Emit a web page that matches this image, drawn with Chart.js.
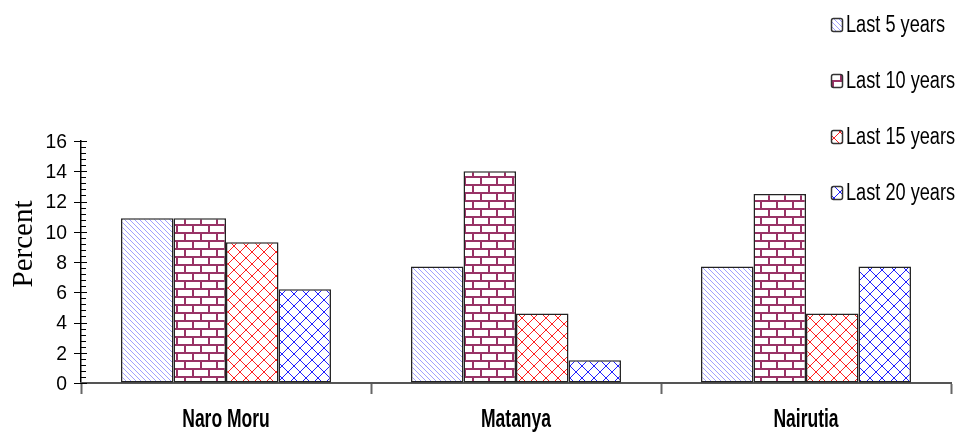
<!DOCTYPE html>
<html>
<head>
<meta charset="utf-8">
<script src="https://cdn.jsdelivr.net/npm/chart.js@4/dist/chart.umd.min.js"></script>
<style>
  html, body { margin: 0; padding: 0; background: #fff; }
  #wrap { width: 962px; height: 439px; }
</style>
</head>
<body>
<div id="wrap"><canvas id="yearsChart" width="962" height="439"></canvas></div>
<script>
// Sites and percentage values per period
const categories = ['Naro Moru', 'Matanya', 'Nairutia'];
const seriesLabels = ['Last 5 years', 'Last 10 years', 'Last 15 years', 'Last 20 years'];
const last5 = [10.9, 7.7, 7.7];
const last10 = [10.9, 14.0, 12.5];
const last15 = [9.3, 4.6, 4.6];
const last20 = [6.2, 1.5, 7.7];
const yMax = 16;
const yStep = 2;
const yTitle = 'Percent';

// build fill patterns
function makePattern(w, h, draw) {
  const c = document.createElement('canvas');
  c.width = w; c.height = h;
  const g = c.getContext('2d');
  g.fillStyle = '#ffffff';
  g.fillRect(0, 0, w, h);
  draw(g);
  return c.getContext('2d').createPattern(c, 'repeat');
}

const diagPattern = makePattern(5, 5, g => {
  g.strokeStyle = 'rgba(120, 120, 255, 0.7)';
  g.lineWidth = 1;
  g.beginPath();
  g.moveTo(-1, -1); g.lineTo(6, 6);
  g.moveTo(-1, 4); g.lineTo(1, 6);
  g.moveTo(4, -1); g.lineTo(6, 1);
  g.stroke();
});

const brickPattern = makePattern(16, 16, g => {
  g.fillStyle = '#993366';
  g.fillRect(0, 0, 16, 2);
  g.fillRect(0, 8, 16, 2);
  g.fillRect(0, 0, 2, 8);
  g.fillRect(8, 8, 2, 8);
});

function diamondPattern(color) {
  return makePattern(12, 12, g => {
    g.strokeStyle = color;
    g.lineWidth = 1;
    g.beginPath();
    g.moveTo(0, 0); g.lineTo(12, 12);
    g.moveTo(12, 0); g.lineTo(0, 12);
    g.moveTo(-6, 6); g.lineTo(6, 18);
    g.moveTo(6, -6); g.lineTo(18, 6);
    g.moveTo(6, -6); g.lineTo(-6, 6);
    g.moveTo(18, 6); g.lineTo(6, 18);
    g.stroke();
  });
}

const redPattern = diamondPattern('#ff2020');
const bluePattern = diamondPattern('#2020ff');

const fills = [diagPattern, brickPattern, redPattern, bluePattern];
const seriesValues = [last5, last10, last15, last20];

// condensed text helper
function squeezeText(ctx, text, x, y, sx, align) {
  ctx.save();
  ctx.translate(x, y);
  ctx.scale(sx, 1);
  ctx.textAlign = align;
  ctx.fillText(text, 0, 0);
  ctx.restore();
}

// axis labels, minor ticks, axis title and legend
const axisExtras = {
  id: 'axisExtras',
  afterDraw(chart) {
    const ctx = chart.ctx;
    const y = chart.scales.y;
    const x = chart.scales.x;
    const x0 = y.right;
    ctx.save();
    ctx.strokeStyle = '#000';
    ctx.lineWidth = 1;
    for (let i = 0; i <= 40; i++) {
      const py = Math.round(y.getPixelForValue(i * 0.4)) + 0.5;
      ctx.beginPath();
      if (i % 5 === 0) {
        ctx.moveTo(x0 - 7, py); ctx.lineTo(x0 + 6, py);
      } else {
        ctx.moveTo(x0, py); ctx.lineTo(x0 + 5, py);
      }
      ctx.stroke();
    }

    // value labels
    ctx.fillStyle = '#000';
    ctx.textBaseline = 'middle';
    ctx.font = '21px "Liberation Sans", Arial, sans-serif';
    y.ticks.forEach(t => {
      squeezeText(ctx, String(t.value), 67, y.getPixelForValue(t.value) + 1, 0.92, 'right');
    });

    // category labels
    ctx.font = 'bold 25px "Liberation Sans", Arial, sans-serif';
    chart.data.labels.forEach((lab, i) => {
      squeezeText(ctx, lab, x.getPixelForValue(i), 420, 0.7, 'center');
    });

    // axis title
    ctx.save();
    ctx.translate(24, 244);
    ctx.rotate(-Math.PI / 2);
    ctx.font = '29px "Liberation Serif", "Times New Roman", serif';
    ctx.textAlign = 'center';
    ctx.fillText(yTitle, 0, 0);
    ctx.restore();

    // legend
    ctx.font = '23px "Liberation Sans", Arial, sans-serif';
    chart.data.datasets.forEach((ds, i) => {
      const cy = 25 + i * 56;
      ctx.fillStyle = ds.backgroundColor;
      ctx.fillRect(832, cy - 6, 10, 12);
      ctx.strokeStyle = '#333';
      ctx.lineWidth = 1.5;
      ctx.beginPath();
      ctx.roundRect(831.5, cy - 6.5, 11, 13, 2);
      ctx.stroke();
      ctx.fillStyle = '#000';
      squeezeText(ctx, ds.label, 846, cy + 1, 0.79, 'left');
    });
    ctx.restore();
  }
};

new Chart(document.getElementById('yearsChart'), {
  type: 'bar',
  data: {
    labels: categories,
    datasets: seriesLabels.map((label, i) => ({
      label: label,
      data: seriesValues[i],
      backgroundColor: fills[i],
      borderColor: '#222',
      borderWidth: 1.5,
      borderSkipped: false,
      categoryPercentage: 0.724,
      barPercentage: 1.0,
    }))
  },
  options: {
    responsive: false,
    animation: false,
    layout: {
      padding: { top: 141, right: 11, left: 0, bottom: 0 }
    },
    plugins: {
      legend: { display: false },
      tooltip: { enabled: false },
    },
    scales: {
      y: {
        min: 0,
        max: yMax,
        afterFit: scale => { scale.width = 81; },
        border: { color: '#000', width: 1.5 },
        grid: {
          drawOnChartArea: false,
          drawTicks: false,
        },
        ticks: {
          stepSize: yStep,
          display: false,
        },
      },
      x: {
        afterFit: scale => { scale.height = 56; },
        border: { color: '#555', width: 2 },
        grid: {
          offset: true,
          drawOnChartArea: false,
          tickLength: 11,
          tickWidth: 2,
          tickColor: '#666',
        },
        ticks: { display: false },
      },
    },
  },
  plugins: [axisExtras],
});
</script>
</body>
</html>
